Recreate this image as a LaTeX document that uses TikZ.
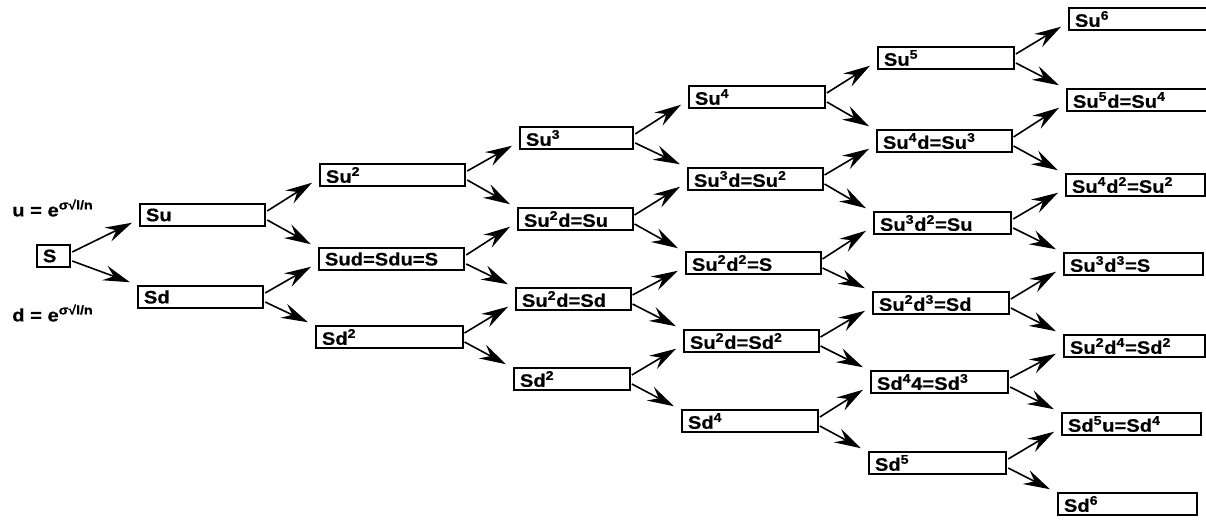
\documentclass[tikz,border=0pt]{standalone}
\usepackage{fontspec}
\usepackage{tikz}
\usetikzlibrary{arrows.meta,calc}
\newfontfamily\treefont{Liberation Sans}[FakeStretch=1.12,BoldFeatures={FakeBold=0.5}]
\newcommand{\pw}[1]{\textsuperscript{#1}}

\begin{document}
\begin{tikzpicture}[
  x=0.75pt,y=-0.75pt,
  >={Stealth[length=20pt,width=11.5pt,inset=7pt]},
  box/.style={draw,line width=1.4pt,anchor=west,inner xsep=4.5pt,inner ysep=0pt,
    minimum height=16.2pt,text width=#1,align=left,
    font=\treefont\bfseries\fontsize{13.5}{15}\selectfont},
  lbl/.style={anchor=west,inner sep=0pt,font=\treefont\bfseries\fontsize{13.5}{15}\selectfont},
  up/.style={->,line width=1.2pt,
    to path={($(\tikztostart.east)+(1,-4)$) -- ($(\tikztotarget.south west)+(-7,-4)$)}},
  dn/.style={->,line width=1.2pt,
    to path={($(\tikztostart.east)+(1,5)$) -- ($(\tikztotarget.north west)+(-7,-3)$)}}
]
\useasboundingbox (0,0) rectangle (1206,520);
\fill[white] (0,0) rectangle (1206,520);
% factors
\node[lbl] (ufac) at (12,208) {u = e\pw{σ√l/n}};
\node[lbl] (dfac) at (12,313) {d = e\pw{σ√l/n}};
% step 0 and 1
\node[box=16pt] (s) at (36,256) {S};
\node[box=85pt] (u) at (139,215) {Su};
\node[box=85pt] (d) at (137,297) {Sd};
% step 2
\node[box=100pt] (uu) at (319,175) {Su\pw{2}};
\node[box=100pt] (ud) at (318,259) {Sud=Sdu=S};
\node[box=101pt] (dd) at (315,337) {Sd\pw{2}};
% step 3
\node[box=76pt] (uuu) at (519,138) {Su\pw{3}};
\node[box=77pt] (uud) at (517,219) {Su\pw{2}d=Su};
\node[box=77pt] (udd) at (515,299) {Su\pw{2}d=Sd};
\node[box=78pt] (ddd) at (513,379) {Sd\pw{2}};
% step 4
\node[box=93pt] (u4) at (688,97) {Su\pw{4}};
\node[box=92pt] (u3d) at (687,179) {Su\pw{3}d=Su\pw{2}};
\node[box=92pt] (u2d2) at (685,263) {Su\pw{2}d\pw{2}=S};
\node[box=92pt] (ud3) at (683,341) {Su\pw{2}d=Sd\pw{2}};
\node[box=93pt] (d4) at (681,421) {Sd\pw{4}};
% step 5
\node[box=93pt] (u5) at (877,58) {Su\pw{5}};
\node[box=92pt] (u4d) at (876,141) {Su\pw{4}d=Su\pw{3}};
\node[box=94pt] (u3d2) at (873,223) {Su\pw{3}d\pw{2}=Su};
\node[box=93pt] (u2d3) at (872,303) {Su\pw{2}d\pw{3}=Sd};
\node[box=94pt] (ud4) at (870,382) {Sd\pw{4}4=Sd\pw{3}};
\node[box=94pt] (d5) at (868,463) {Sd\pw{5}};
% step 6
\node[box=97pt] (u6) at (1068,19) {Su\pw{6}};
\node[box=96pt] (u5d) at (1066,100) {Su\pw{5}d=Su\pw{4}};
\node[box=95pt] (u4d2) at (1065,185) {Su\pw{4}d\pw{2}=Su\pw{2}};
\node[box=95pt] (u3d3) at (1063,264) {Su\pw{3}d\pw{3}=S};
\node[box=97pt] (u2d4) at (1063,346) {Su\pw{2}d\pw{4}=Sd\pw{2}};
\node[box=95pt] (ud5) at (1061,424) {Sd\pw{5}u=Sd\pw{4}};
\node[box=95pt] (d6) at (1057,504) {Sd\pw{6}};
% branches
\draw[up] (s) to (u); \draw[dn] (s) to (d);
\draw[up] (u) to (uu); \draw[dn] (u) to (ud);
\draw[up] (d) to (ud); \draw[dn] (d) to (dd);
\draw[up] (uu) to (uuu); \draw[dn] (uu) to (uud);
\draw[up] (ud) to (uud); \draw[dn] (ud) to (udd);
\draw[up] (dd) to (udd); \draw[dn] (dd) to (ddd);
\draw[up] (uuu) to (u4); \draw[dn] (uuu) to (u3d);
\draw[up] (uud) to (u3d); \draw[dn] (uud) to (u2d2);
\draw[up] (udd) to (u2d2); \draw[dn] (udd) to (ud3);
\draw[up] (ddd) to (ud3); \draw[dn] (ddd) to (d4);
\draw[up] (u4) to (u5); \draw[dn] (u4) to (u4d);
\draw[up] (u3d) to (u4d); \draw[dn] (u3d) to (u3d2);
\draw[up] (u2d2) to (u3d2); \draw[dn] (u2d2) to (u2d3);
\draw[up] (ud3) to (u2d3); \draw[dn] (ud3) to (ud4);
\draw[up] (d4) to (ud4); \draw[dn] (d4) to (d5);
\draw[up] (u5) to (u6); \draw[dn] (u5) to (u5d);
\draw[up] (u4d) to (u5d); \draw[dn] (u4d) to (u4d2);
\draw[up] (u3d2) to (u4d2); \draw[dn] (u3d2) to (u3d3);
\draw[up] (u2d3) to (u3d3); \draw[dn] (u2d3) to (u2d4);
\draw[up] (ud4) to (u2d4); \draw[dn] (ud4) to (ud5);
\draw[up] (d5) to (ud5); \draw[dn] (d5) to (d6);
\end{tikzpicture}
\end{document}
